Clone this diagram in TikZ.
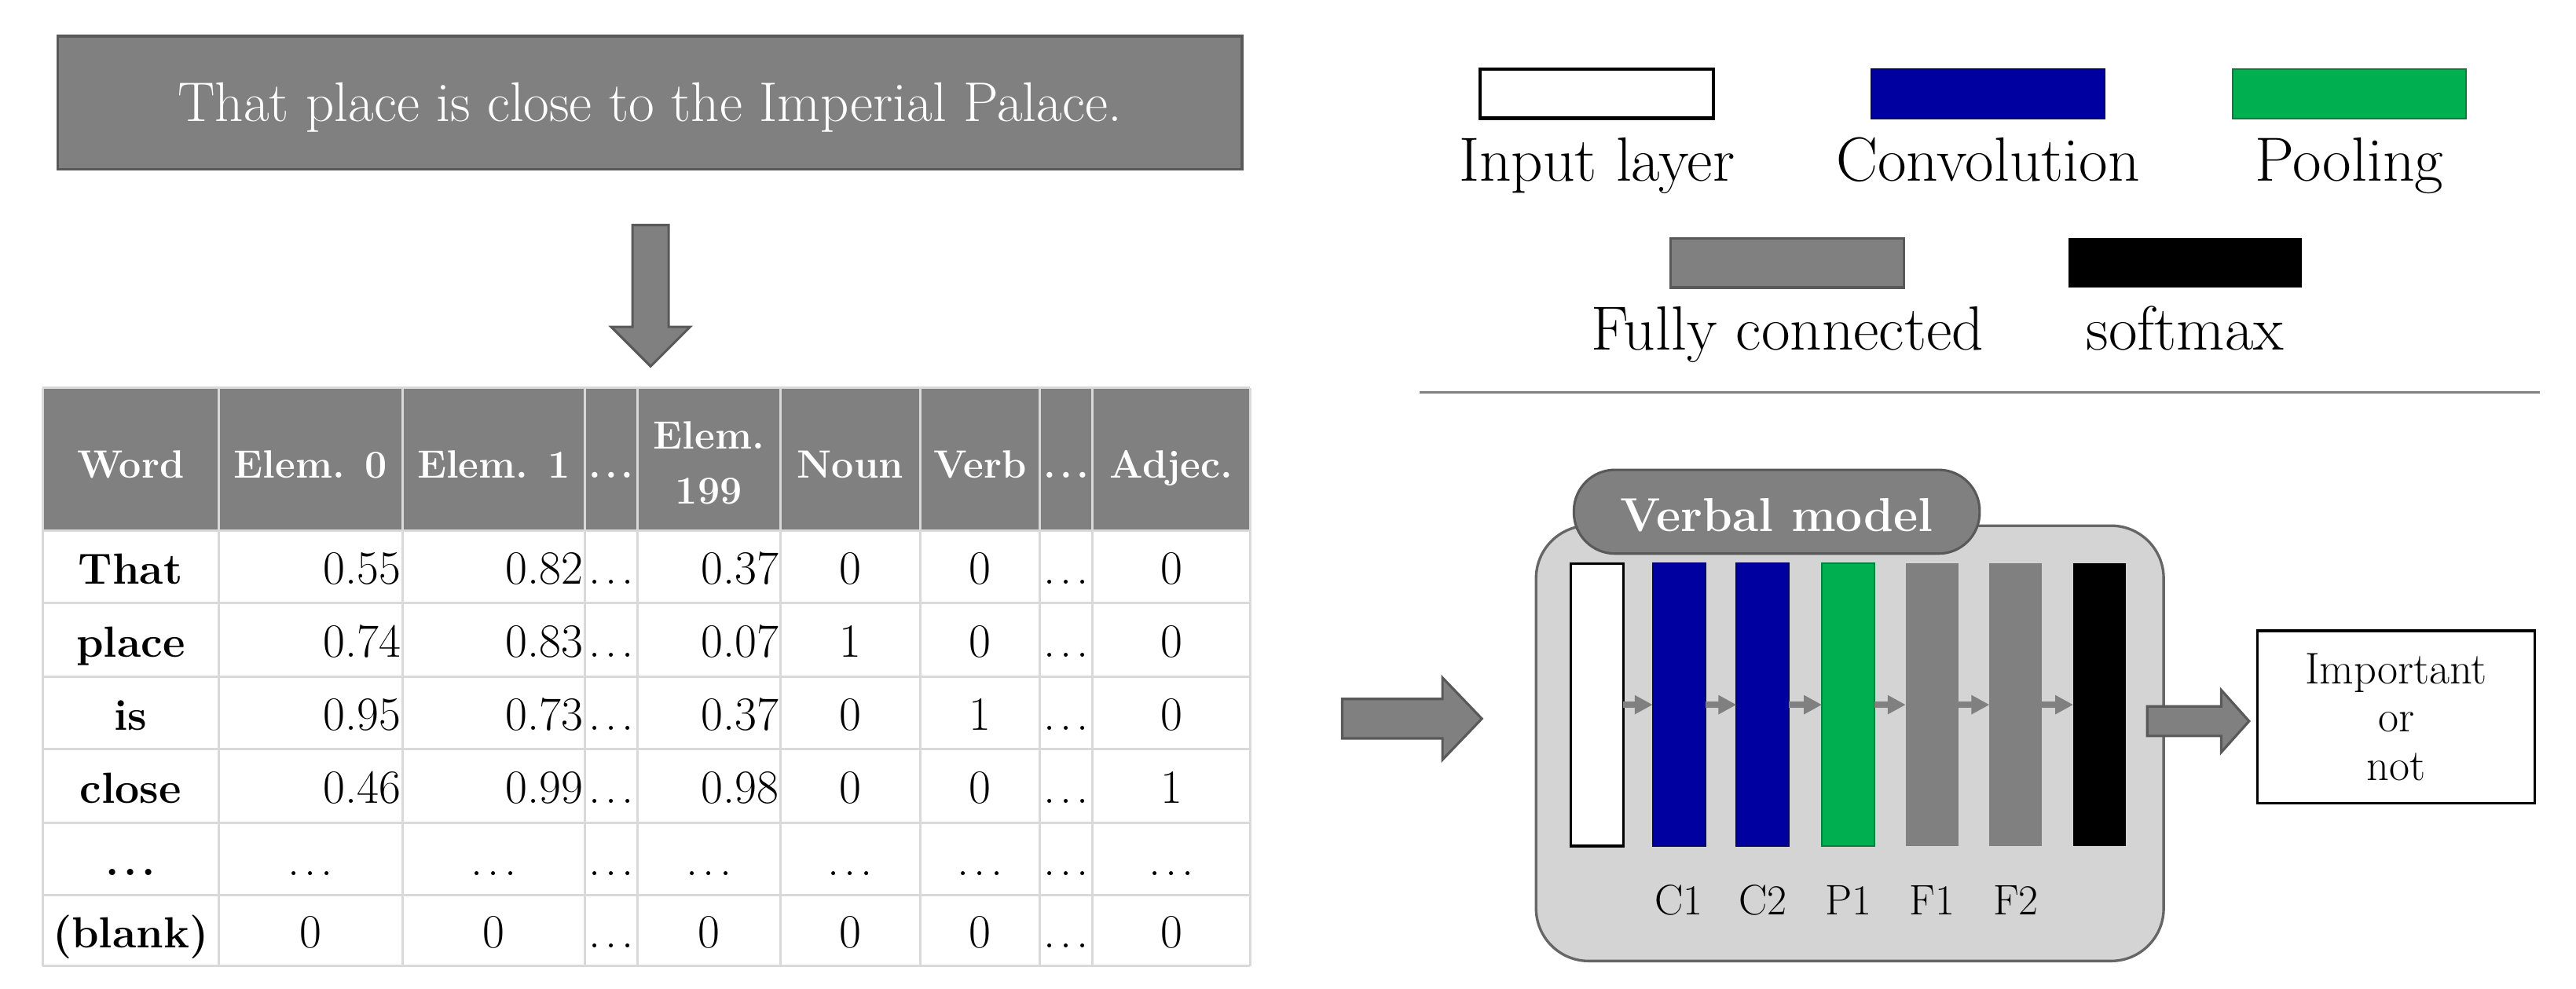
\documentclass[tikz,border=0pt]{standalone}
\usetikzlibrary{arrows.meta}
\definecolor{mgray}{RGB}{128,128,128}
\definecolor{dgray}{RGB}{89,89,89}
\definecolor{lgrid}{RGB}{217,217,217}
\definecolor{cblue}{RGB}{0,0,160}
\definecolor{cblueb}{RGB}{0,0,120}
\definecolor{cgreen}{RGB}{0,176,80}
\definecolor{cgreenb}{RGB}{0,130,60}
\definecolor{contfill}{RGB}{212,212,212}
\definecolor{contb}{RGB}{102,102,102}
\newcommand\eld{.\kern0.1em.\kern0.1em.}
\begin{document}
\begin{tikzpicture}[x=1pt,y=-1pt,
  every node/.style={inner sep=0pt, outer sep=0pt},
  hdr/.style={text=white, font=\fontsize{24}{33.5}\selectfont\bfseries},
  num/.style={font=\fontsize{29}{34}\selectfont},
  wrd/.style={font=\fontsize{26.5}{30}\selectfont\bfseries},
  leg/.style={font=\fontsize{38}{44}\selectfont},
  lbl/.style={font=\fontsize{26}{30}\selectfont},
  legbox/.style={minimum width=142pt, minimum height=30pt, anchor=north west},
  bar/.style={minimum width=32pt, minimum height=172pt},
  gridl/.style={draw=lgrid, line width=1.5pt},
  blockarrow/.style={fill=mgray, draw=dgray, line width=1.5pt, line join=miter},
  link/.style={draw=mgray, line width=3.5pt, -{Triangle[length=11pt,width=11pt]}}
]
\useasboundingbox (0,0) rectangle (1568,602);

% sentence box
\node[draw=dgray, fill=mgray, line width=1.5pt, minimum width=721pt, minimum height=81pt,
  text=white, font=\fontsize{34}{40}\selectfont, text height=23pt, text depth=0pt]
  (sent) at (395.5,62.5) {That place is close to the Imperial Palace.};

% down arrow
\path[blockarrow] (385,137) -- (407,137) -- (407,199) -- (420,199) -- (396,223)
  -- (372,199) -- (385,199) -- cycle;

% table
\fill[mgray] (26,236) rectangle (761,323);
\foreach \x in {26,133,245,356,388,475,560,633,665,761}
  \draw[gridl] (\x,236) -- (\x,588);
\foreach \y in {236,323,367,412,456,501,545,588}
  \draw[gridl] (26,\y) -- (761,\y);

\node[hdr, anchor=base] (hword) at (79.5,291) {Word};
\node[hdr, anchor=base] (he0) at (189,291) {Elem. 0};
\node[hdr, anchor=base] (he1) at (300.5,291) {Elem. 1};
\node[hdr, anchor=base] (hd1) at (372,291) {\eld};
\node[hdr, align=center] (he199) at (431.5,282) {Elem.\\199};
\node[hdr, anchor=base] (hnoun) at (517.5,291) {Noun};
\node[hdr, anchor=base] (hverb) at (596.5,291) {Verb};
\node[hdr, anchor=base] (hd2) at (649,291) {\eld};
\node[hdr, anchor=base] (hadj) at (713,291) {Adjec.};

\foreach \cw/\ca/\cb/\cc/\cn/\cv/\cj/\yb [count=\i] in
  {That/0.55/0.82/0.37/0/0/0/355.5, place/0.74/0.83/0.07/1/0/0/400,
   is/0.95/0.73/0.37/0/1/0/444.5, close/0.46/0.99/0.98/0/0/1/489}
{
  \node[wrd, anchor=base] (w\i) at (79.5,\yb) {\cw};
  \node[num, anchor=base east] (a\i) at (244,\yb) {\ca};
  \node[num, anchor=base east] (b\i) at (355,\yb) {\cb};
  \node[num, anchor=base] (d\i) at (372,\yb) {\eld};
  \node[num, anchor=base east] (c\i) at (474,\yb) {\cc};
  \node[num, anchor=base] (n\i) at (517.5,\yb) {\cn};
  \node[num, anchor=base] (v\i) at (596.5,\yb) {\cv};
  \node[num, anchor=base] (e\i) at (649,\yb) {\eld};
  \node[num, anchor=base] (j\i) at (713,\yb) {\cj};
}
\node[wrd, anchor=base] (w5) at (79.5,533) {\eld};
\foreach \x [count=\k] in {189,300.5,372,431.5,517.5,596.5,649,713}
  \node[num, anchor=base] (dots\k) at (\x,533) {\eld};

\node[wrd, anchor=base] (w6) at (79.5,577) {(blank)};
\foreach \x/\t [count=\k] in {189/0,300.5/0,372/\eld,431.5/0,517.5/0,596.5/0,649/\eld,713/0}
  \node[num, anchor=base] (bl\k) at (\x,577) {\t};

% legend
\node[legbox, draw=black, line width=2pt, fill=white] (linput) at (901,42) {};
\node[legbox, fill=cblue, draw=cblueb, line width=1pt] (lconv) at (1139,42) {};
\node[legbox, fill=cgreen, draw=cgreenb, line width=1pt] (lpool) at (1359,42) {};
\node[legbox, fill=mgray, draw=dgray, line width=1.5pt] (lfc) at (1017,145) {};
\node[legbox, fill=black] (lsoft) at (1259,145) {};
\node[leg, anchor=base] (tinput) at (972,110) {Input layer};
\node[leg, anchor=base] (tconv) at (1210,110) {Convolution};
\node[leg, anchor=base] (tpool) at (1430,110) {Pooling};
\node[leg, anchor=base] (tfc) at (1088,213) {Fully connected};
\node[leg, anchor=base] (tsoft) at (1330,213) {softmax};
\draw[mgray, line width=1.5pt] (864,239) -- (1546,239);

% input arrow
\path[blockarrow] (817,425.5) -- (878,425.5) -- (878,412.5) -- (902,437.5)
  -- (878,462.5) -- (878,449.5) -- (817,449.5) -- cycle;

% model container
\node[draw=contb, fill=contfill, line width=1.6pt, rounded corners=32pt,
  minimum width=382pt, minimum height=265pt, anchor=north west] (model) at (935,320) {};
\node[draw=dgray, fill=mgray, line width=1.5pt, rounded corners=25pt,
  minimum width=247pt, minimum height=51pt, text=white,
  font=\fontsize{29}{34}\selectfont\bfseries, text height=24pt, text depth=0pt]
  (tab) at (1081.5,311.5) {Verbal model};

\node[bar, fill=white, draw=black, line width=1.5pt] (lin) at (972,429) {};
\node[bar, fill=cblue, draw=cblueb, line width=1pt] (c1) at (1022,429) {};
\node[bar, fill=cblue, draw=cblueb, line width=1pt] (c2) at (1073,429) {};
\node[bar, fill=cgreen, draw=cgreenb, line width=1pt] (p1) at (1125,429) {};
\node[bar, fill=mgray] (f1) at (1176,429) {};
\node[bar, fill=mgray] (f2) at (1227,429) {};
\node[bar, fill=black] (sm) at (1278,429) {};

\draw[link] (lin.east) -- (c1.west);
\draw[link] (c1.east) -- (c2.west);
\draw[link] (c2.east) -- (p1.west);
\draw[link] (p1.east) -- (f1.west);
\draw[link] (f1.east) -- (f2.west);
\draw[link] (f2.east) -- (sm.west);

\node[lbl, anchor=base] (lc1) at (1022,557) {C1};
\node[lbl, anchor=base] (lc2) at (1073,557) {C2};
\node[lbl, anchor=base] (lp1) at (1125,557) {P1};
\node[lbl, anchor=base] (lf1) at (1176,557) {F1};
\node[lbl, anchor=base] (lf2) at (1227,557) {F2};

% output arrow
\path[blockarrow] (1307,430) -- (1352,430) -- (1352,420) -- (1369,439)
  -- (1352,458) -- (1352,448) -- (1307,448) -- cycle;

% output box
\node[draw=black, line width=1.5pt, fill=white, minimum width=169pt, minimum height=105pt,
  align=center, font=\fontsize{27}{29.5}\selectfont] (out) at (1458.5,436.5) {Important\\or\\not};
\end{tikzpicture}
\end{document}
